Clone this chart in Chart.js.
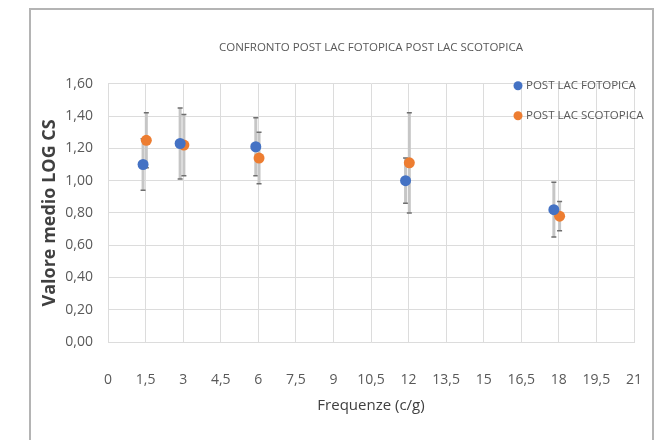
<!DOCTYPE html>
<html>
<head>
<meta charset="utf-8">
<title>Confronto post LAC</title>
<script src="https://cdn.jsdelivr.net/npm/chart.js@4.4.1/dist/chart.umd.min.js"></script>
<style>
  body { margin: 0; background: #fff; }
  #wrap { position: relative; width: 668px; height: 440px; overflow: hidden; }
  #frame { position: absolute; left: 29px; top: 8px; width: 621px; height: 460px; border: 2px solid #b4b4b4; }
  canvas { position: absolute; left: 0; top: 0; }
</style>
</head>
<body>
<div id="wrap">
  <div id="frame"></div>
  <canvas id="myChart" width="668" height="440"></canvas>
</div>
<script>
// values
const frequenze = [1.5, 3, 6, 12, 18];
const xFotopica = [1.4, 2.88, 5.9, 11.88, 17.8];
const xScotopica = [1.53, 3.03, 6.03, 12.03, 18.03];
const fotopica = [1.10, 1.23, 1.21, 1.00, 0.82];
const errFotopica = [0.16, 0.22, 0.18, 0.14, 0.17];
const scotopica = [1.25, 1.22, 1.14, 1.11, 0.78];
const errScotopica = [0.17, 0.19, 0.16, 0.31, 0.09];
const yTicks = [0, 0.2, 0.4, 0.6, 0.8, 1.0, 1.2, 1.4, 1.6];
const xTicks = [0, 1.5, 3, 4.5, 6, 7.5, 9, 10.5, 12, 13.5, 15, 16.5, 18, 19.5, 21];

const BLUE = '#4472c4';
const ORANGE = '#ed7d31';
const TEXT = '#595959';
const FONT = "'Liberation Sans Narrow', 'Open Sans', sans-serif";

const comma = (v, d) => (d === undefined ? String(v) : v.toFixed(d)).replace('.', ',');

const toPoints = (xs, ys) => xs.map((x, i) => ({ x: x, y: ys[i] }));

// gray error bars drawn through the scales, under the points
const errorBars = {
    id: 'errorBars',
    beforeDatasetsDraw(chart) {
        const ctx = chart.ctx;
        const xs = chart.scales.x;
        const ys = chart.scales.y;
        chart.data.datasets.forEach((ds) => {
            ds.data.forEach((p, i) => {
                const e = ds.errors[i];
                const px = xs.getPixelForValue(p.x);
                const top = ys.getPixelForValue(p.y + e);
                const bot = ys.getPixelForValue(p.y - e);
                ctx.save();
                ctx.strokeStyle = '#c6c6c6';
                ctx.lineWidth = 3;
                ctx.beginPath();
                ctx.moveTo(px, top);
                ctx.lineTo(px, bot);
                ctx.stroke();
                ctx.strokeStyle = '#6f6f6f';
                ctx.lineWidth = 1.5;
                ctx.beginPath();
                ctx.moveTo(px - 2.5, top);
                ctx.lineTo(px + 2.5, top);
                ctx.moveTo(px - 2.5, bot);
                ctx.lineTo(px + 2.5, bot);
                ctx.stroke();
                ctx.restore();
            });
        });
    }
};

// legend sitting over the top right corner of the plot, like the original
const cornerLegend = {
    id: 'cornerLegend',
    afterDraw(chart) {
        const ctx = chart.ctx;
        const area = chart.chartArea;
        ctx.save();
        ctx.font = '11.5px ' + FONT;
        ctx.textBaseline = 'middle';
        chart.data.datasets.forEach((ds, i) => {
            const y = area.top + 2 + i * 30;
            const x = area.right - 116;
            ctx.fillStyle = ds.backgroundColor;
            ctx.beginPath();
            ctx.arc(x, y, 4.5, 0, Math.PI * 2);
            ctx.fill();
            ctx.fillStyle = TEXT;
            ctx.fillText(ds.label, x + 8, y);
        });
        ctx.restore();
    }
};

var ctx = document.getElementById('myChart').getContext('2d');
// eslint-disable-next-line no-undef
new Chart(ctx, {
    type: 'scatter',
    data: {
        datasets: [{
            label: 'POST LAC FOTOPICA',
            data: toPoints(xFotopica, fotopica),
            errors: errFotopica,
            backgroundColor: BLUE,
            borderWidth: 0,
            pointRadius: 5.5,
            pointHoverRadius: 5.5
        }, {
            label: 'POST LAC SCOTOPICA',
            data: toPoints(xScotopica, scotopica),
            errors: errScotopica,
            backgroundColor: ORANGE,
            borderWidth: 0,
            pointRadius: 5.5,
            pointHoverRadius: 5.5
        }]
    },
    options: {
        responsive: false,
        animation: false,
        devicePixelRatio: 1,
        layout: { padding: { left: 30, right: 34, top: 7, bottom: 20 } },
        plugins: {
            legend: { display: false },
            tooltip: { enabled: false },
            title: {
                display: true,
                fullSize: false,
                text: 'CONFRONTO POST LAC FOTOPICA POST LAC SCOTOPICA',
                color: TEXT,
                font: { family: FONT, size: 11.5, weight: 'normal' },
                padding: { top: 34, bottom: 29 }
            }
        },
        scales: {
            x: {
                type: 'linear',
                min: 0,
                max: 21,
                afterBuildTicks: (s) => { s.ticks = xTicks.map(v => ({ value: v })); },
                afterFit: (s) => { s.height = 78; },
                ticks: {
                    color: TEXT,
                    padding: 8,
                    maxRotation: 0,
                    autoSkip: false,
                    font: { family: FONT, size: 14 },
                    callback: (v) => comma(v)
                },
                grid: { color: '#dcdcdc', drawTicks: true, tickLength: 22, tickColor: 'rgba(0,0,0,0)' },
                border: { color: '#dcdcdc' },
                title: {
                    display: true,
                    text: 'Frequenze (c/g)',
                    color: '#404040',
                    font: { family: FONT, size: 15 },
                    padding: { top: 0, bottom: 5 }
                }
            },
            y: {
                min: 0,
                max: 1.6,
                afterBuildTicks: (s) => { s.ticks = yTicks.map(v => ({ value: v })); },
                afterFit: (s) => { s.width = 78; },
                ticks: {
                    color: TEXT,
                    padding: 15,
                    font: { family: FONT, size: 14 },
                    callback: (v) => comma(v, 2)
                },
                grid: { color: '#dcdcdc', drawTicks: false },
                border: { color: '#dcdcdc' },
                title: {
                    display: true,
                    text: 'Valore medio LOG CS',
                    color: '#404040',
                    font: { family: FONT, size: 18, weight: 'bold' },
                    padding: { top: 9, bottom: 0 }
                }
            }
        }
    },
    plugins: [errorBars, cornerLegend]
});
</script>
</body>
</html>
